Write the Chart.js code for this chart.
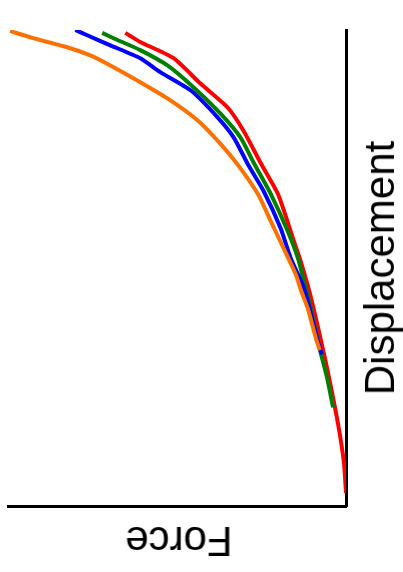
<!DOCTYPE html>
<html>
<head>
<meta charset="utf-8">
<title>Force vs Displacement</title>
<script src="https://cdn.jsdelivr.net/npm/chart.js@4"></script>
<style>
  html, body { margin: 0; padding: 0; background: #fff; }
  #wrap { position: relative; width: 403px; height: 572px; overflow: hidden; }
  .lbl {
    position: absolute; white-space: nowrap; color: #000;
    font-family: "Liberation Sans", Arial, sans-serif; font-size: 42px; line-height: 42px;
  }
  #ylbl { left: 380px; top: 268px; transform: translate(-50%, -50%) rotate(-90deg); }
  #xlbl { left: 179px; top: 541px; transform: translate(-50%, -50%) rotate(180deg); }
</style>
</head>
<body>
<div id="wrap">
  <canvas id="chart" width="403" height="572"></canvas>
  <div class="lbl" id="ylbl">Displacement</div>
  <div class="lbl" id="xlbl">Force</div>
</div>
<script>
// curves (arbitrary units, 0-100 on both axes)
const orangeX = [0.6, 7.4, 17.4, 24.2, 30.1, 38.9, 46.9, 55.8, 62.5, 67.6, 73.5, 77.3, 81.1, 84.7, 86.1, 88.2, 90.6, 91.7];
const orangeY = [99.8, 98.3, 96.4, 94.7, 92.6, 89.1, 85.7, 81.1, 76.2, 71.8, 65.7, 60.0, 54.3, 48.8, 45.7, 41.7, 35.4, 33.1];

const blueX = [19.8, 23.3, 30.1, 38.9, 44.8, 53.7, 61.7, 66.4, 70.5, 75.2, 80.2, 83.2, 86.7, 88.2, 91.2, 92.3];
const blueY = [100, 98.9, 96.8, 94.1, 91.2, 87.4, 81.7, 77.5, 72.0, 66.3, 58.5, 52.2, 46.7, 43.2, 34.7, 32.2];

const greenX = [27.7, 32.2, 38.9, 46.9, 54.6, 62.5, 68.4, 72.3, 77.3, 82.3, 85.3, 87.6, 89.1, 91.4, 93.8, 95.6];
const greenY = [99.4, 97.9, 95.8, 92.6, 88.0, 82.5, 77.5, 72.2, 65.7, 57.9, 52.2, 45.9, 41.7, 34.1, 27.4, 21.1];

const redX = [34.5, 38.9, 48.7, 56.6, 64.6, 69.3, 74.3, 79.4, 84.1, 86.1, 88.5, 90.6, 92.6, 94.1, 97.0, 98.8, 99.4];
const redY = [99.4, 97.5, 94.1, 88.8, 83.8, 78.9, 72.2, 65.7, 55.8, 51.6, 45.7, 39.6, 33.3, 28.4, 17.9, 9.5, 3.2];

function pts(xs, ys){
  return xs.map((x,i)=>({x:x, y:ys[i]}));
}

function series(label, xs, ys, color){
  return {label:label, data:pts(xs,ys), borderColor:color, backgroundColor:color,
    borderWidth:4, pointRadius:0, tension:0.2, fill:false};
}

const ctx = document.getElementById('chart').getContext('2d');
new Chart(ctx, {
  type:'line',
  data:{
    datasets:[
      series('orange', orangeX, orangeY, '#ff7000'),
      series('blue', blueX, blueY, '#0000ff'),
      series('green', greenX, greenY, '#008000'),
      series('red', redX, redY, '#ff0000')
    ]
  },
  options:{
    responsive:false,
    animation:false,
    layout:{padding:{left:8, top:30, right:49, bottom:58}},
    plugins:{legend:{display:false}, tooltip:{enabled:false}},
    scales:{
      x:{type:'linear', min:0, max:99.4, ticks:{display:false}, grid:{display:false},
         border:{display:true, color:'#000', width:3}},
      y:{type:'linear', position:'right', min:0.5, max:100, ticks:{display:false}, grid:{display:false},
         border:{display:true, color:'#000', width:3}}
    }
  }
});
</script>
</body>
</html>
